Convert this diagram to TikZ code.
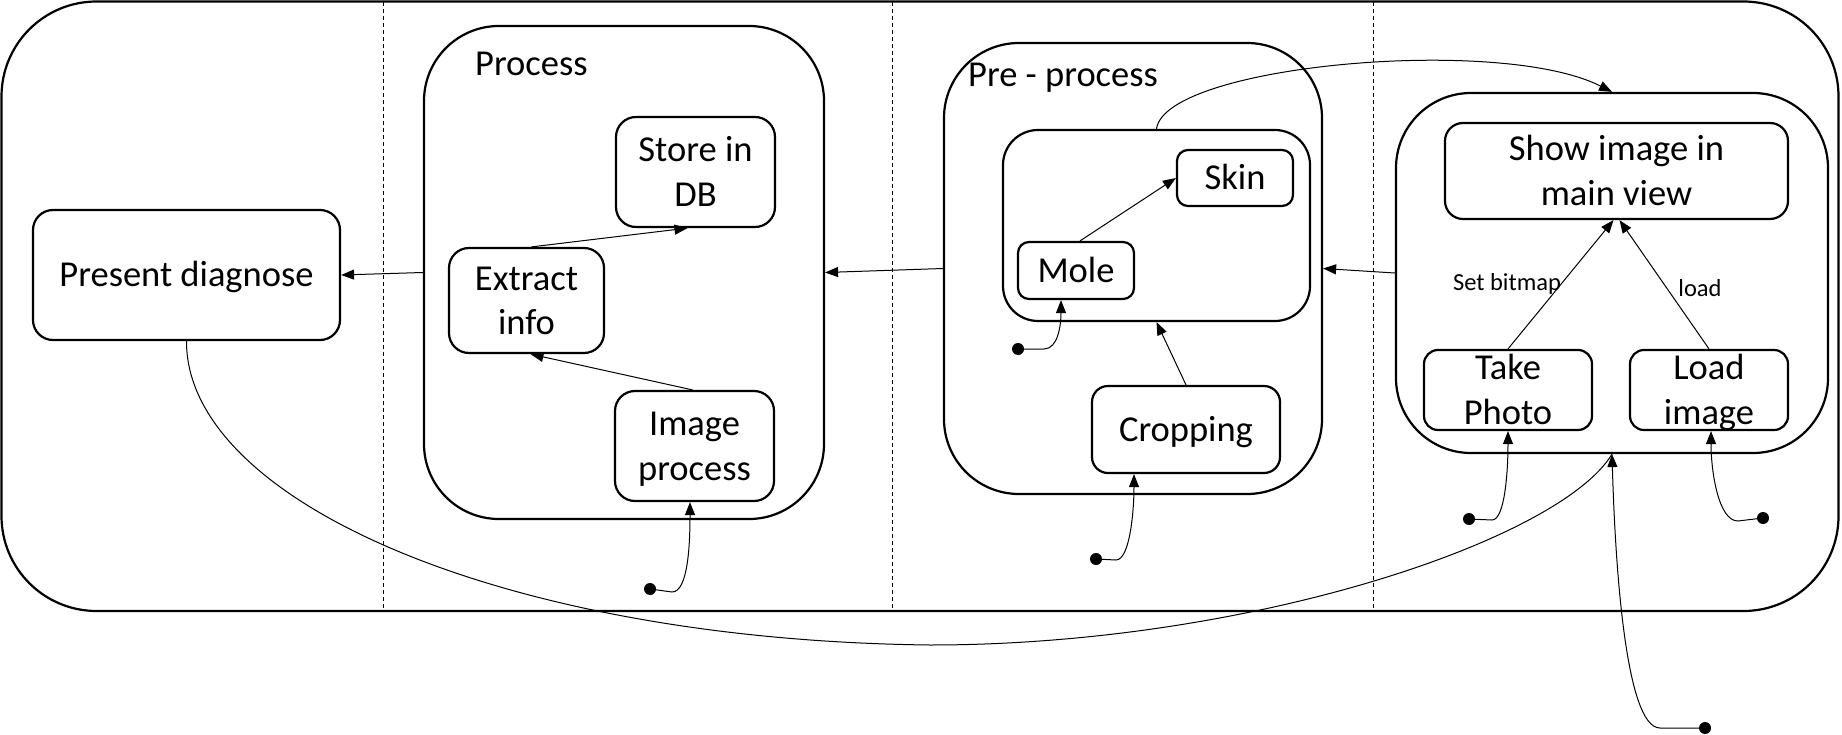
\documentclass[tikz,border=0pt]{standalone}
\usepackage{fontspec}
\setmainfont{Carlito}
\usetikzlibrary{arrows.meta}
\newcommand\dgbig{\fontsize{36.5}{44.5}\selectfont}
\newcommand\dgsmall{\fontsize{24.5}{29}\selectfont}
\newcommand\dgl[1]{\raisebox{0pt}[28pt][4pt]{#1}}
\begin{document}
\begin{tikzpicture}[x=1pt,y=-1pt,
  bx/.style={draw, line width=2.2pt, align=center, inner sep=0pt, font=\dgbig, rounded corners=16pt},
  cont/.style={draw, line width=2.2pt, inner sep=0pt, rounded corners=75pt},
  conn/.style={line width=1pt, -{Triangle[length=13pt,width=10pt]}},
  plain/.style={line width=1pt},
  initdot/.style={circle, fill=black, inner sep=0pt, minimum size=12pt},
  lbl/.style={font=\dgsmall, inner sep=0pt},
  ttl/.style={font=\dgbig, inner sep=0pt, anchor=base west},
  sep/.style={line width=0.9pt, dash pattern=on 4pt off 3pt}
]
\useasboundingbox (0,0) rectangle (1842,735);

% outer frame
\node[draw, line width=2.2pt, inner sep=0pt, rounded corners=95pt,
      minimum width=1837pt, minimum height=609.5pt] (outer) at (920,306.25) {};

% separators
\coordinate (s1t) at (383,2); \coordinate (s1b) at (383,611);
\coordinate (s2t) at (892,2); \coordinate (s2b) at (892,611);
\coordinate (s3t) at (1373,2); \coordinate (s3b) at (1373,611);
\draw[sep] (s1t) -- (s1b);
\draw[sep] (s2t) -- (s2b);
\draw[sep] (s3t) -- (s3b);

% left column
\node[bx, rounded corners=20pt, minimum width=307pt, minimum height=130pt] (present) at (186.5,275) {\dgl{Present diagnose}};

% Process container
\node[cont, minimum width=400pt, minimum height=493pt] (proc) at (624,272.5) {};
\node[ttl] (proctitle) at (475,75.5) {Process};
\node[bx, rounded corners=20pt, minimum width=159pt, minimum height=110pt] (store) at (695.5,172) {\dgl{Store in}\\\dgl{DB}};
\node[bx, rounded corners=20pt, minimum width=155pt, minimum height=105pt] (extract) at (526.5,300.5) {\dgl{Extract}\\\dgl{info}};
\node[bx, rounded corners=20pt, minimum width=159pt, minimum height=110pt] (img) at (694.5,446) {\dgl{Image}\\\dgl{process}};

% Pre-process container
\node[cont, minimum width=378pt, minimum height=451pt] (pre) at (1133,268.5) {};
\node[ttl] (pretitle) at (968,86.5) {Pre - process};
\node[draw, line width=2.2pt, inner sep=0pt, rounded corners=35pt, minimum width=307pt, minimum height=191pt] (inner) at (1156.5,225.5) {};
\node[bx, rounded corners=11pt, minimum width=116pt, minimum height=56pt] (skin) at (1235,178) {\dgl{Skin}};
\node[bx, rounded corners=11pt, minimum width=116pt, minimum height=57pt] (mole) at (1076,270.5) {\dgl{Mole}};
\node[bx, rounded corners=16pt, minimum width=188pt, minimum height=87pt] (crop) at (1186,429.5) {\dgl{Cropping}};

% right container
\node[cont, minimum width=432pt, minimum height=360pt] (right) at (1612,273) {};
\node[bx, rounded corners=18pt, minimum width=343pt, minimum height=96pt] (show) at (1616.5,171) {\dgl{Show image in}\\\dgl{main view}};
\node[bx, rounded corners=14pt, minimum width=168pt, minimum height=80pt] (take) at (1508,390) {\dgl{Take}\\\dgl{Photo}};
\node[bx, rounded corners=14pt, minimum width=158pt, minimum height=80pt] (load) at (1709,390) {\dgl{Load}\\\dgl{image}};
\node[lbl] (setbm) at (1507,284) {Set bitmap};
\node[lbl] (loadlbl) at (1700,288) {load};

% main flow arrows
\draw[conn] (right.west) -- (pre.east);
\draw[conn] (pre.west) -- (proc.east);
\draw[conn] (proc.west) -- (present.east);

% inner arrows
\draw[conn] ([xshift=5pt]extract.north) -- ([xshift=-8pt]store.south);
\draw[conn] ([xshift=-2pt]img.north) -- ([xshift=4pt]extract.south);
\draw[conn] ([xshift=4pt]mole.north) -- (skin.west);
\draw[conn] (crop.north) -- (inner.south);
\draw[conn] (take.north) -- ([xshift=-3pt]show.south);
\draw[conn] (load.north) -- ([xshift=3pt]show.south);

% arc from inner box to right container
\draw[conn] (inner.north) .. controls (1165,65) and (1500,35) .. (right.north);

% long curve from present diagnose
\draw[plain] (present.south) .. controls (186,500) and (500,640) .. (930,645)
   .. controls (1250,645) and (1560,540) .. (right.south);

% initial dots
\node[initdot] (d1) at (650,589) {};
\draw[conn] (d1.center) -- (672,592) .. controls (688,592) and (690,545) .. ([xshift=-4.5pt]img.south);
\node[initdot] (d2) at (1018,349) {};
\draw[conn] (d2.center) -- (1044,349) .. controls (1058,349) and (1061,325) .. ([xshift=-15pt]mole.south);
\node[initdot] (d3) at (1096,559) {};
\draw[conn] (d3.center) -- (1116,560) .. controls (1130,560) and (1134,510) .. ([xshift=-52pt]crop.south);
\node[initdot] (d4) at (1469,519) {};
\draw[conn] (d4.center) -- (1492,520) .. controls (1505,520) and (1508,470) .. (take.south);
\node[initdot] (d5) at (1763,518) {};
\draw[conn] (d5.center) -- (1738,521) .. controls (1718,521) and (1711,470) .. ([xshift=2pt]load.south);
\node[initdot] (d6) at (1705,728) {};
\draw[conn] (d6.center) -- (1660,728) .. controls (1625,728) and (1615,560) .. (right.south);
\end{tikzpicture}
\end{document}
